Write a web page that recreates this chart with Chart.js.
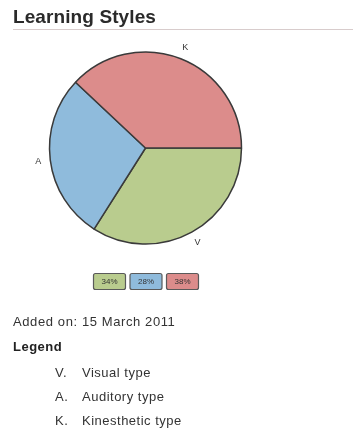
<!DOCTYPE html>
<html>
<head>
<meta charset="utf-8">
<script src="https://cdn.jsdelivr.net/npm/chart.js@4/dist/chart.umd.min.js"></script>
<style>
  html, body { margin:0; padding:0; background:#fff; }
  body { width:353px; height:430px; position:relative; overflow:hidden; font-family:"Liberation Sans", Arial, sans-serif; color:#222; }
  #wrap { position:absolute; left:0; top:0; width:353px; height:430px; }
  #title { position:absolute; left:13px; top:6px; font-size:19px; font-weight:bold; color:#2a2a2a; font-family:"Liberation Sans", Arial, sans-serif; letter-spacing:0.1px; }
  #rule { position:absolute; left:13px; top:29px; width:340px; height:1px; background:#d8cccc; }
  #added { position:absolute; left:13px; top:314px; font-size:13px; color:#333; letter-spacing:0.6px; }
  #legendTitle { position:absolute; left:13px; top:339px; font-size:13px; font-weight:bold; color:#222; letter-spacing:0.5px; }
  .row { position:absolute; left:55px; font-size:13px; color:#333; letter-spacing:0.5px; }
  .row .k { display:inline-block; width:27px; }
</style>
</head>
<body>
<div id="wrap"><canvas id="c" width="353" height="430"></canvas></div>
<div id="title">Learning Styles</div>
<div id="rule"></div>
<div id="added">Added on: 15 March 2011</div>
<div id="legendTitle">Legend</div>
<div id="legendRows"></div>
<script>
const categories = ["V", "A", "K"];
const categoryNames = ["Visual type", "Auditory type", "Kinesthetic type"];
const percentValues = [34, 28, 38];
const sliceColors = ["#b9cc8e", "#8fbbdc", "#dc8c8b"];

// legend rows
const rowsEl = document.getElementById('legendRows');
categories.forEach((c, i) => {
  const d = document.createElement('div');
  d.className = 'row';
  d.style.top = (365 + i * 24) + 'px';
  d.innerHTML = '<span class="k">' + c + '.</span>' + categoryNames[i];
  rowsEl.appendChild(d);
});

const outerLabels = {
  id: 'outerLabels',
  afterDatasetsDraw(chart) {
    const ctx = chart.ctx;
    const meta = chart.getDatasetMeta(0);
    ctx.save();
    ctx.font = '9px "Liberation Sans", Arial, sans-serif';
    ctx.fillStyle = '#333';
    ctx.textAlign = 'center';
    ctx.textBaseline = 'middle';
    meta.data.forEach((arc, i) => {
      const p = arc.getProps(['x','y','startAngle','endAngle','outerRadius'], true);
      const mid = (p.startAngle + p.endAngle) / 2;
      const r = p.outerRadius + 12;
      ctx.fillText(chart.data.labels[i], p.x + Math.cos(mid) * r, p.y + Math.sin(mid) * r);
    });
    // percentage boxes
    const bw = 32, bh = 16, gap = 4.5;
    const total = categories.length * bw + (categories.length - 1) * gap;
    const cx = meta.data[0].x;
    let x0 = cx - total / 2;
    const y0 = 273;
    ctx.font = '8px "Liberation Sans", Arial, sans-serif';
    percentValues.forEach((v, i) => {
      const x = x0 + i * (bw + gap);
      ctx.beginPath();
      ctx.roundRect(x + 0.5, y0 + 0.5, bw, bh, 2);
      ctx.fillStyle = sliceColors[i];
      ctx.fill();
      ctx.lineWidth = 1.2;
      ctx.strokeStyle = '#5a5a5a';
      ctx.stroke();
      ctx.fillStyle = '#333';
      ctx.fillText(v + '%', x + bw / 2 + 0.5, y0 + bh / 2 + 1);
    });
    ctx.restore();
  }
};

new Chart(document.getElementById('c'), {
  type: 'pie',
  data: {
    labels: categories,
    datasets: [{
      data: percentValues,
      backgroundColor: sliceColors,
      borderColor: '#3a3a3a',
      borderWidth: 1.5,
      radius: 96
    }]
  },
  options: {
    responsive: false,
    animation: false,
    rotation: 90,
    layout: { padding: { left: 0, right: 62, top: 0, bottom: 134 } },
    plugins: { legend: { display: false }, tooltip: { enabled: false }, title: { display: false } },
    events: []
  },
  plugins: [outerLabels]
});
</script>
</body>
</html>
